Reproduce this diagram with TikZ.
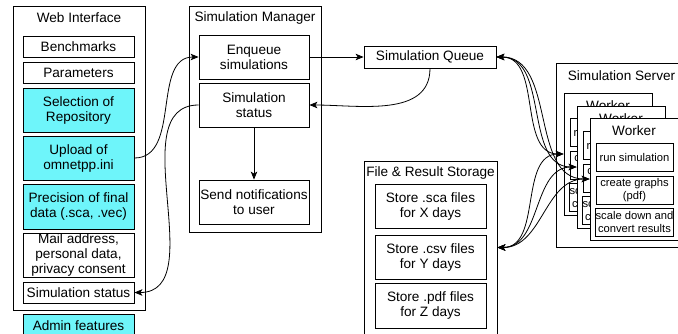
\documentclass[tikz,border=0pt]{standalone}
\usepackage{fontspec}
\setmainfont{Liberation Sans}
\usetikzlibrary{arrows.meta}
\definecolor{cyanish}{RGB}{110,245,250}
\newcommand\bigf{\fontsize{13.6}{15}\selectfont}
\newcommand\smallf{\fontsize{11.2}{12.5}\selectfont}
\newcommand\mybox[7]{\node[#6, minimum width={(#4)-(#2)}, minimum height={(#5)-(#3)}] (#1) at ({((#2)+(#4))/2},{((#3)+(#5))/2}) {#7};}
\newcommand\worker[3]{%
  \mybox{#1}{#2}{#3}{#2+88}{#3+122}{wbox}{}
  \node[ttl] (#1t) at ({#2+44},{#3+13}) {Worker};
  \mybox{#1r}{#2+6}{#3+25}{#2+83}{#3+53}{ibox}{run simulation}
  \mybox{#1c}{#2+6}{#3+58}{#2+83}{#3+86}{ibox}{create graphs\\(pdf)}
  \mybox{#1s}{#2+6}{#3+90}{#2+83}{#3+118}{ibox}{scale down and\\convert results}
}
\tikzset{
  box/.style={draw, line width=0.8pt, inner sep=0pt, align=center, fill=white, font=\bigf},
  cbox/.style={box, fill=cyanish},
  cont/.style={draw, line width=0.8pt, inner sep=0pt, fill=white},
  wbox/.style={draw, line width=0.8pt, inner sep=0pt, fill=white},
  ibox/.style={draw, line width=0.8pt, inner sep=0pt, align=center, fill=white, font=\smallf},
  ttl/.style={inner sep=0pt, font=\bigf},
  tip/.tip={Stealth[length=8pt,width=6.5pt,inset=2pt]},
  arr/.style={line width=0.8pt, -tip},
  darr/.style={line width=0.8pt, tip-tip},
}
\begin{document}
\begin{tikzpicture}[x=1pt,y=-1pt]
\useasboundingbox (0,0) rectangle (678,333);
% Web Interface
\mybox{wi}{13}{6}{145}{310}{cont}{}
\node[ttl] (wit) at (79,18) {Web Interface};
\mybox{bench}{23}{36}{134}{57}{box}{Benchmarks}
\mybox{params}{23}{62}{134}{83}{box}{Parameters}
\mybox{repo}{23}{88}{134}{132}{cbox}{Selection of\\Repository}
\mybox{upload}{23}{136}{134}{180}{cbox}{Upload of\\omnetpp.ini}
\mybox{prec}{23}{184}{134}{229}{cbox}{Precision of final\\data (.sca, .vec)}
\mybox{mail}{23}{233}{134}{277}{box}{Mail address,\\personal data,\\privacy consent}
\mybox{wistat}{23}{282}{134}{303}{box}{Simulation status}
\mybox{admin}{23}{314}{134}{337}{cbox}{Admin features}
% Simulation Manager
\mybox{sm}{189}{6}{321}{232}{cont}{}
\node[ttl] (smt) at (255,18) {Simulation Manager};
\mybox{enq}{199}{35}{309}{79}{box}{Enqueue\\simulations}
\mybox{smstat}{199}{83}{309}{127}{box}{Simulation\\status}
\mybox{notify}{199}{180}{309}{224}{box}{Send notifications\\to user}
% Queue
\mybox{queue}{364}{46}{496}{68}{box}{Simulation Queue}
% Storage
\mybox{fs}{364}{161}{497}{334}{cont}{}
\node[ttl] (fst) at (430.5,172.5) {File \& Result Storage};
\mybox{sca}{375}{184}{486}{228}{box}{Store .sca files\\for X days}
\mybox{csv}{375}{235}{486}{279}{box}{Store .csv files\\for Y days}
\mybox{pdf}{375}{283}{486}{328}{box}{Store .pdf files\\for Z days}
% Server
\mybox{srv}{556}{63}{700}{247}{cont}{}
\node[ttl] (srvt) at (621.5,76) {Simulation Server};
\worker{wa}{564}{93}
\worker{wb}{577}{106}
\worker{wc}{590}{118}
% connectors
\draw[arr] (upload.east) to[out=0,in=180] (enq.west);
\draw[arr] (smstat.west) to[out=180,in=0] (wistat.east);
\draw[arr] (enq.east) -- (queue.west);
\draw[arr] (queue.south) to[out=-90,in=0] (smstat.east);
\draw[arr] (smstat.south) -- (notify.north);
\foreach \w in {wa,wb,wc}{
  \draw[darr] (queue.east) to[out=0,in=180] (\w.west);
  \draw[darr] (fs.east) to[out=0,in=180] (\w.west);
}
\end{tikzpicture}
\end{document}
